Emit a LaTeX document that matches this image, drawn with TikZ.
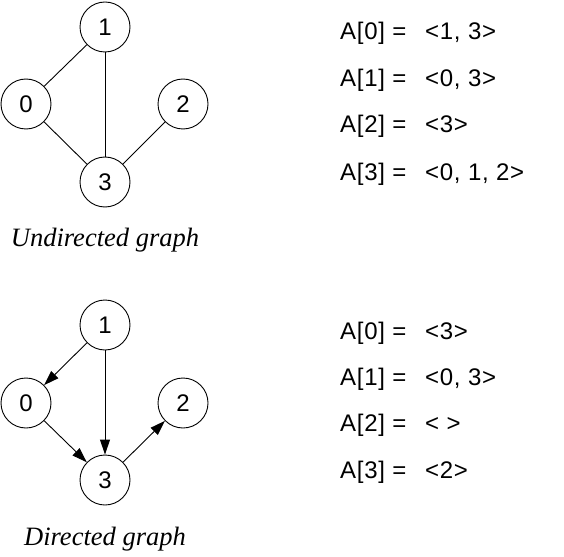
\documentclass[tikz,border=0pt]{standalone}
\usepackage{fontspec}
\setmainfont{Liberation Serif}
\newfontfamily\arialfont[LetterSpace=3]{Liberation Sans}
\newfontfamily\digitfont{Liberation Sans}
\usetikzlibrary{arrows.meta}
\begin{document}
\begin{tikzpicture}[x=1pt,y=-1pt,
  vertex/.style={circle,draw,line width=0.9pt,minimum size=50pt,inner sep=0pt,font=\digitfont\fontsize{24}{28}\selectfont},
  edge/.style={line width=0.9pt},
  arc/.style={line width=0.9pt,-{Triangle[length=15pt,width=10pt]}},
  listline/.style={anchor=base west,inner sep=0pt,font=\arialfont\fontsize{24}{28}\selectfont},
  caption/.style={anchor=base,inner sep=0pt,font=\itshape\fontsize{26.5}{31}\selectfont}]
\useasboundingbox (0,0) rectangle (564,556);
% undirected
\node[vertex] (u1) at (105,27) {1};
\node[vertex] (u0) at (26,104) {0};
\node[vertex] (u2) at (183,104) {2};
\node[vertex] (u3) at (105,182) {3};
\draw[edge] (u1) -- (u0);
\draw[edge] (u1) -- (u3);
\draw[edge] (u0) -- (u3);
\draw[edge] (u2) -- (u3);
\node[caption] (ucap) at (105,246) {Undirected graph};
% directed
\node[vertex] (d1) at (105,325) {1};
\node[vertex] (d0) at (26,403) {0};
\node[vertex] (d2) at (183,403) {2};
\node[vertex] (d3) at (105,480) {3};
\draw[arc] (d1) -- (d0);
\draw[arc] (d1) -- (d3);
\draw[arc] (d0) -- (d3);
\draw[arc] (d3) -- (d2);
\node[caption] (dcap) at (105,545) {Directed graph};
% lists
\node[listline] (ua0) at (340,40) {\makebox[85pt][l]{A[0] =}<1, 3>};
\node[listline] (ua1) at (340,86.5) {\makebox[85pt][l]{A[1] =}<0, 3>};
\node[listline] (ua2) at (340,133) {\makebox[85pt][l]{A[2] =}<3>};
\node[listline] (ua3) at (340,180) {\makebox[85pt][l]{A[3] =}<0, 1, 2>};
\node[listline] (da0) at (340,339) {\makebox[85pt][l]{A[0] =}<3>};
\node[listline] (da1) at (340,385) {\makebox[85pt][l]{A[1] =}<0, 3>};
\node[listline] (da2) at (340,431.5) {\makebox[85pt][l]{A[2] =}< >};
\node[listline] (da3) at (340,478) {\makebox[85pt][l]{A[3] =}<2>};
\end{tikzpicture}
\end{document}
